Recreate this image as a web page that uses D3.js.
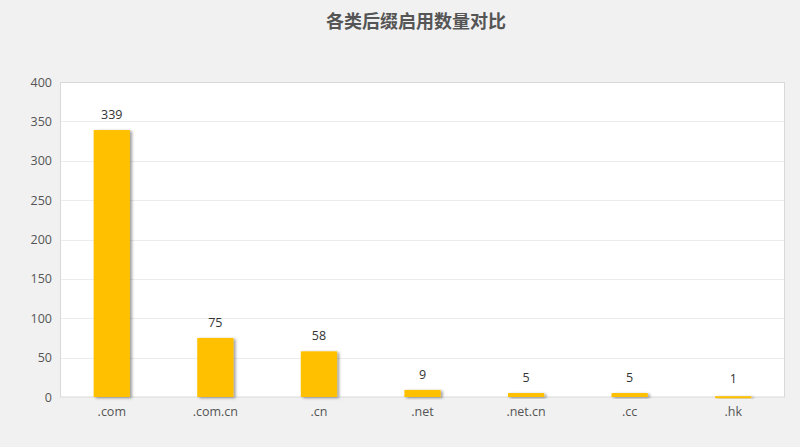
<!DOCTYPE html>
<html><head><meta charset="utf-8">
<script src="https://cdn.jsdelivr.net/npm/d3@7"></script>
<style>
html,body{margin:0;padding:0;background:#f1f1f1;}
svg{display:block;}
</style></head>
<body><svg id="c" width="800" height="447"></svg>
<script>
const categories = [".com", ".com.cn", ".cn", ".net", ".net.cn", ".cc", ".hk"];
const values = [339, 75, 58, 9, 5, 5, 1];
const yTicks = [0, 50, 100, 150, 200, 250, 300, 350, 400];
const title = "各类后缀启用数量对比";

const svg = d3.select("#c");
const W = 800, H = 447;
const m = {left: 60, right: 15, top: 82, bottom: 50};
const iw = W - m.left - m.right, ih = H - m.top - m.bottom;

const defs = svg.append("defs");
const f = defs.append("filter").attr("id","sh").attr("x","-30%").attr("y","-30%").attr("width","160%").attr("height","160%");
f.append("feDropShadow").attr("dx",2).attr("dy",1).attr("stdDeviation",1.8).attr("flood-color","#000").attr("flood-opacity",0.4);

svg.append("text").attr("x", 416).attr("y", 28).attr("text-anchor","middle")
  .attr("font-family","'Noto Sans CJK SC', sans-serif").attr("font-weight","bold")
  .attr("font-size", 18).attr("fill","#555").text(title);

const g = svg.append("g").attr("transform",`translate(${m.left},${m.top})`);
g.append("rect").attr("width", iw).attr("height", ih).attr("fill","#fff");

const x = d3.scaleBand().domain(categories).range([0, iw]).paddingInner(0.65).paddingOuter(0.325);
const y = d3.scaleLinear().domain([0, 400]).range([ih, 0]);

g.selectAll(".grid").data(yTicks.slice(1, -1)).join("line")
  .attr("x1",0).attr("x2",iw).attr("y1",d=>Math.round(y(d))+0.5).attr("y2",d=>Math.round(y(d))+0.5)
  .attr("stroke","#ececec").attr("stroke-width",1);

g.append("rect").attr("x",0.5).attr("y",0.5).attr("width",iw-1).attr("height",ih-0.5)
  .attr("fill","none").attr("stroke","#d9d9d9");

g.selectAll(".bar").data(values).join("rect")
  .attr("x",(d,i)=>x(categories[i])).attr("width",x.bandwidth())
  .attr("y",d=>y(d)).attr("height",d=>Math.max(ih - y(d), 2))
  .attr("fill","#ffc000").attr("filter","url(#sh)");

g.selectAll(".vl").data(values).join("text")
  .attr("x",(d,i)=>x(categories[i])+x.bandwidth()/2)
  .attr("y",d=>Math.min(y(d), ih-3)-11).attr("text-anchor","middle")
  .attr("font-family","'Open Sans', sans-serif").attr("font-size",12.5).attr("fill","#333")
  .text(d=>d);

const yAxis = d3.axisLeft(y).tickValues(yTicks).tickSize(0).tickPadding(8);
const ya = g.append("g").call(yAxis);
ya.select(".domain").remove();
ya.selectAll("text").attr("font-family","'Open Sans', sans-serif").attr("font-size",12.5).attr("fill","#555");

const xAxis = d3.axisBottom(x).tickSize(0).tickPadding(10);
const xa = g.append("g").attr("transform",`translate(0,${ih})`).call(xAxis);
xa.select(".domain").remove();
xa.selectAll("text").attr("font-family","'Open Sans', sans-serif").attr("font-size",12.5).attr("fill","#555");
</script></body></html>
